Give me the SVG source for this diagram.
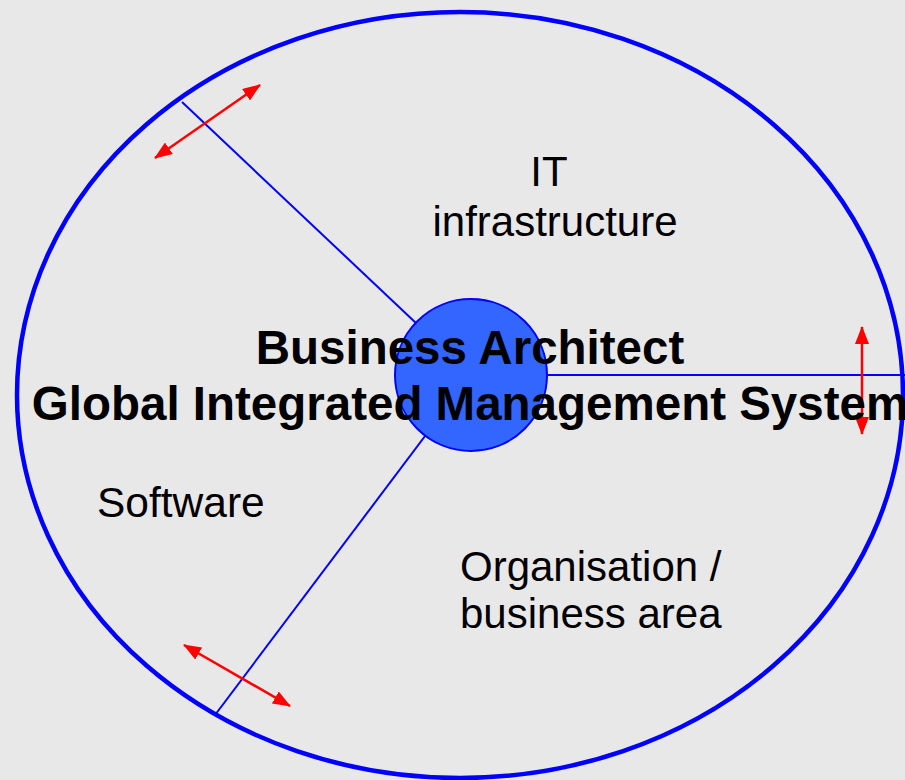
<svg xmlns="http://www.w3.org/2000/svg" width="905" height="780" viewBox="0 0 905 780">
<defs>
<marker id="ah" viewBox="0 0 18 14" refX="17" refY="7" markerWidth="18" markerHeight="14" markerUnits="userSpaceOnUse" orient="auto-start-reverse">
<path d="M0,0 L18,7 L0,14 Z" fill="#FF0000"/>
</marker>
<style>
.conn{stroke:#0000FF;stroke-width:2;fill:none}
.red{stroke:#FF0000;stroke-width:2.5;fill:none;marker-start:url(#ah);marker-end:url(#ah)}
.lbl{font-family:"Liberation Sans",Arial,sans-serif;font-size:42px;fill:#000}
.ttl{font-family:"Liberation Sans",Arial,sans-serif;font-size:47.5px;font-weight:bold;fill:#000;text-anchor:middle}
</style>
</defs>
<rect width="905" height="780" fill="#E8E8E8"/>
<g id="outer">
<ellipse cx="460" cy="395" rx="443" ry="383" fill="none" stroke="#0000FF" stroke-width="4.5"/>
</g>
<g id="connectors">
<line class="conn" x1="182" y1="102" x2="471" y2="375"/>
<line class="conn" x1="215" y1="715" x2="471" y2="375"/>
<line class="conn" x1="471" y1="375" x2="905" y2="375"/>
<line class="red" x1="155" y1="158" x2="260" y2="85"/>
<line class="red" x1="184" y1="645" x2="290" y2="706"/>
<line class="red" x1="862" y1="327" x2="862" y2="434"/>
</g>
<g id="hub">
<circle cx="471" cy="375" r="76" fill="#3366FF" stroke="#0000FF" stroke-width="2"/>
</g>
<g id="it">
<text class="lbl" x="549" y="186" text-anchor="middle">IT</text>
<text class="lbl" x="555" y="236" text-anchor="middle">infrastructure</text>
</g>
<g id="software">
<text class="lbl" x="97" y="517" style="font-size:42.5px">Software</text>
</g>
<g id="org">
<text class="lbl" x="460" y="581">Organisation /</text>
<text class="lbl" x="460" y="628">business area</text>
</g>
<g id="title">
<text class="ttl" x="470" y="364">Business Architect</text>
<text class="ttl" x="470" y="420">Global Integrated Management System</text>
</g>
</svg>
